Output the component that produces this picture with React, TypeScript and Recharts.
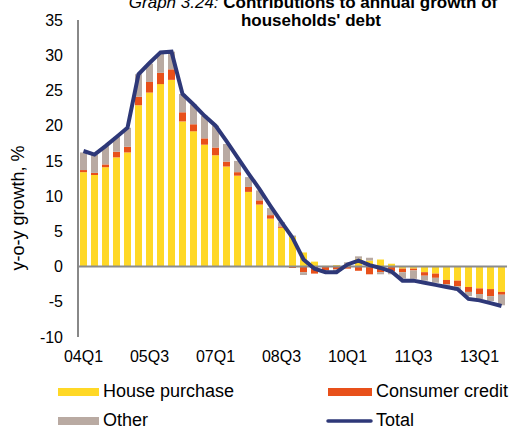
import {
  ComposedChart,
  Bar,
  Line,
  XAxis,
  YAxis,
  ReferenceLine,
} from "recharts";

const quarters = [
  "04Q1", "04Q2", "04Q3", "04Q4",
  "05Q1", "05Q2", "05Q3", "05Q4",
  "06Q1", "06Q2", "06Q3", "06Q4",
  "07Q1", "07Q2", "07Q3", "07Q4",
  "08Q1", "08Q2", "08Q3", "08Q4",
  "09Q1", "09Q2", "09Q3", "09Q4",
  "10Q1", "10Q2", "10Q3", "10Q4",
  "11Q1", "11Q2", "11Q3", "11Q4",
  "12Q1", "12Q2", "12Q3", "12Q4",
  "13Q1", "13Q2", "13Q3",
];

const housePurchase = [
  13.4, 13.0, 14.1, 15.5, 16.2, 22.9, 24.7, 25.9, 26.5, 20.6,
  19.2, 17.3, 15.8, 14.2, 12.9, 10.6, 8.8, 6.8, 5.5, 4.2,
  2.0, 0.7, 0.1, 0.2, 0.3, 1.1, 0.85, 1.0, 0.4, -0.3,
  -0.3, -0.8, -1.0, -1.9, -2.0, -2.9, -3.1, -3.2, -3.6,
];

const consumerCredit = [
  0.3, 0.3, 0.4, 0.8, 0.8, 1.2, 1.5, 1.6, 1.5, 1.3,
  1.0, 0.9, 1.1, 0.7, 0.5, 0.7, 0.6, 0.5, 0.2, -0.2,
  -0.8, -1.0, -0.5, -0.4, -0.3, -0.6, -1.1, -0.8, -0.7, -0.5,
  -0.25, -0.5, -0.6, -0.6, -0.8, -0.7, -0.8, -1.0, -0.4,
];

const other = [
  2.5, 2.6, 2.6, 2.1, 2.7, 3.2, 2.6, 2.7, 2.5, 2.6,
  2.8, 3.2, 3.1, 2.5, 1.6, 1.4, 1.4, 1.0, 0.6, 0.2,
  -0.4, 0.0, -0.3, -0.3, 0.3, 0.35, 0.4, -0.3, -0.4, -0.9,
  -1.2, -0.7, -0.7, -0.5, -0.6, -0.6, -0.7, -0.7, -1.5,
];

const total = [
  16.4, 15.9, 17.1, 18.4, 19.7, 27.3, 28.9, 30.4, 30.5, 24.5,
  23.0, 21.4, 20.0, 17.8, 15.5, 13.2, 11.0, 8.6, 6.3, 4.1,
  1.0, -0.3, -0.8, -0.8, 0.3, 0.85, 0.2, -0.2, -0.7, -2.0,
  -2.0, -2.3, -2.6, -2.9, -3.2, -4.6, -4.8, -5.2, -5.6,
];

const yTicks = [-10, -5, 0, 5, 10, 15, 20, 25, 30, 35];

const YELLOW = "#FFD826";
const ORANGE = "#E8501A";
const GRAY = "#B9AAA2";
const NAVY = "#2E3878";
const FONT = "'Liberation Sans', Arial, sans-serif";

const data = quarters.map((q, i) => ({
  q,
  house: housePurchase[i],
  credit: consumerCredit[i],
  other: other[i],
  total: total[i],
}));

const tickStyle = { fill: "#000", fontSize: 16, fontFamily: FONT };

export default function App() {
  return (
    <div
      style={{
        position: "absolute",
        left: 0,
        top: 0,
        width: 513,
        height: 429,
        background: "#fff",
        overflow: "hidden",
        fontFamily: FONT,
      }}
    >
      <ComposedChart
        width={513}
        height={370}
        data={data}
        margin={{ top: 20, right: 6, bottom: 0, left: 0 }}
        stackOffset="sign"
        barSize={7}
      >
        <XAxis
          dataKey="q"
          interval={5}
          axisLine={false}
          tickLine={false}
          tickSize={0}
          tickMargin={14}
          height={33}
          tick={tickStyle}
        />
        <YAxis
          domain={[-10, 35]}
          ticks={yTicks}
          interval={0}
          width={78}
          axisLine={{ stroke: "#888", strokeWidth: 2 }}
          tickLine={false}
          tickSize={0}
          tickMargin={15}
          tick={tickStyle}
        />
        <Bar dataKey="house" stackId="a" fill={YELLOW} isAnimationActive={false} />
        <Bar dataKey="credit" stackId="a" fill={ORANGE} isAnimationActive={false} />
        <Bar dataKey="other" stackId="a" fill={GRAY} isAnimationActive={false} />
        <ReferenceLine y={0} stroke="#8c8c8c" strokeWidth={2} />
        <Line
          dataKey="total"
          type="linear"
          stroke={NAVY}
          strokeWidth={4}
          dot={false}
          isAnimationActive={false}
        />
      </ComposedChart>

      <svg
        width={513}
        height={429}
        style={{ position: "absolute", left: 0, top: 0, pointerEvents: "none" }}
        fontFamily={FONT}
      >
        <text x={313} y={8} textAnchor="middle" fontSize={17} fill="#000">
          <tspan fontStyle="italic">Graph 3.24: </tspan>
          <tspan fontWeight="bold">Contributions to annual growth of</tspan>
        </text>
        <text x={311} y={26} textAnchor="middle" fontSize={17} fontWeight="bold" fill="#000">
          households' debt
        </text>

        <text
          x={24}
          y={208}
          textAnchor="middle"
          fontSize={18}
          fill="#000"
          transform="rotate(-90 24 208)"
        >
          y-o-y growth, %
        </text>

        <rect x={58} y={388} width={41} height={8} fill={YELLOW} />
        <text x={103} y={397} fontSize={18} fill="#000">House purchase</text>
        <rect x={328} y={388} width={44} height={8} fill={ORANGE} />
        <text x={376} y={397} fontSize={18} fill="#000">Consumer credit</text>
        <rect x={58} y={417} width={41} height={8} fill={GRAY} />
        <text x={103} y={426} fontSize={18} fill="#000">Other</text>
        <line x1={328} y1={421} x2={371} y2={421} stroke={NAVY} strokeWidth={3.5} strokeLinecap="round" />
        <text x={376} y={426} fontSize={18} fill="#000">Total</text>
      </svg>
    </div>
  );
}
